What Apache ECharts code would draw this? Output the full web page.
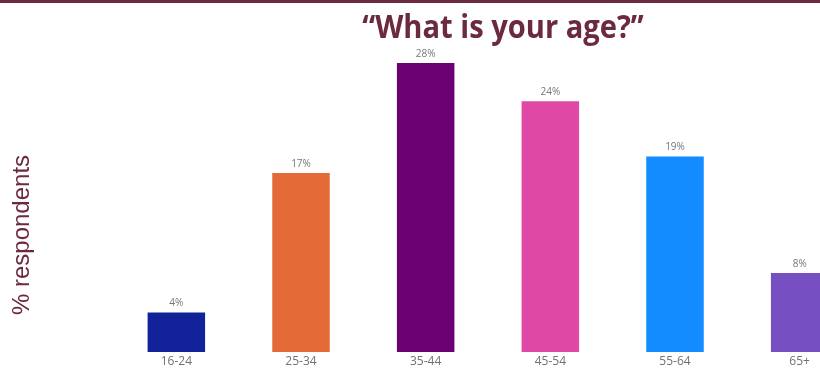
<!DOCTYPE html>
<html><head><meta charset="utf-8">
<script src="https://cdn.jsdelivr.net/npm/echarts@6/dist/echarts.min.js"></script>
<style>html,body{margin:0;padding:0;background:#fff}#c{width:820px;height:368px}</style>
</head><body><div id="c"></div>
<script>
const categories = ['16-24','25-34','35-44','45-54','55-64','65+'];
const values = [3.8, 17.2, 27.8, 24.1, 18.8, 7.6];
const barColors = ['#12239a','#e46b37','#6b0072','#e048a6','#128cff','#7650c2'];
const titleText = '\u201cWhat is your age?\u201d';
const yTitle = '% respondents';

const chart = echarts.init(document.getElementById('c'));
chart.setOption({
  animation: false,
  grid: {left: 114, right: -42, top: 40, bottom: 16, containLabel: false, outerBoundsMode: 'none'},
  xAxis: {
    type: 'category', data: categories,
    axisLine: {show: false}, axisTick: {show: false},
    axisLabel: {color: '#707070', fontSize: 12, fontFamily: 'Open Sans', margin: 4}
  },
  yAxis: {type: 'value', min: 0, max: 30, show: false},
  graphic: [
    {type: 'rect', shape: {x: 0, y: 0, width: 820, height: 3}, style: {fill: '#6b2a3d'}},
    {type: 'text', x: 503, y: 29, scaleX: 0.91, originX: 0, style: {text: titleText, fill: '#6b2a3d', font: 'bold 32px "Open Sans"', textAlign: 'center', textVerticalAlign: 'middle'}},
    {type: 'text', x: 22, y: 235, rotation: Math.PI/2, style: {text: yTitle, fill: '#6b2a3d', font: '24px "Liberation Sans"', textAlign: 'center', textVerticalAlign: 'middle'}}
  ],
  series: [{
    type: 'bar', barWidth: 57.5,
    data: values.map((v, i) => ({value: v, itemStyle: {color: barColors[i]}})),
    label: {show: true, position: 'top', distance: 4, color: '#777', fontSize: 10, fontFamily: 'Open Sans',
      formatter: p => Math.round(p.value) + '%'}
  }]
});
</script></body></html>
